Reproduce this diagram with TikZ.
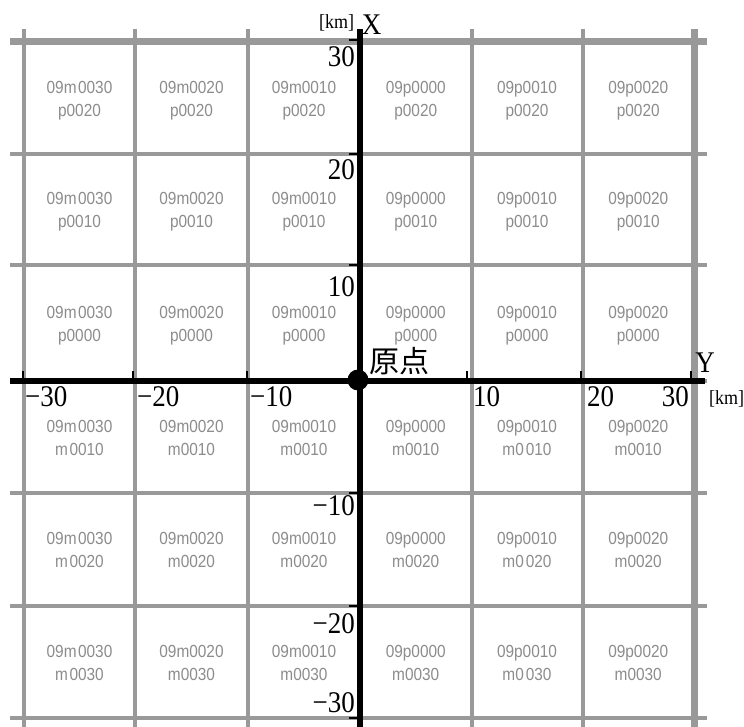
\documentclass[tikz,border=0pt]{standalone}
\usepackage{fontspec}
\setmainfont{Liberation Serif}
\newfontfamily\cellfont[FakeStretch=0.88]{Liberation Sans}
\newfontfamily\numfont[FakeStretch=0.9]{Liberation Serif}
\newfontfamily\jpfont{Noto Sans CJK JP}
\definecolor{gridgray}{HTML}{999999}
\definecolor{labelgray}{HTML}{8C8C8C}
\newcommand\mycell[5]{%
  \node[celltext] (#1a) at (#2,#3-4.75) {#4};
  \node[celltext] (#1b) at (#2,#3+18.25) {#5};}
\begin{document}
\begin{tikzpicture}[x=1pt,y=-1pt,
  gridline/.style={draw=gridgray, line width=4pt},
  edgeline/.style={draw=gridgray, line width=7pt},
  axisline/.style={draw=black, line width=6.5pt},
  tickmark/.style={draw=black, line width=2pt},
  celltext/.style={text=labelgray, font=\cellfont\fontsize{17.5}{20}\selectfont, inner sep=0pt, anchor=base},
  numlabel/.style={font=\numfont\fontsize{30}{32}\selectfont, inner sep=0pt},
  unitlabel/.style={font=\numfont\fontsize{20}{22}\selectfont, inner sep=0pt},
  ]
\useasboundingbox (0,0) rectangle (744,727);
% grid
\foreach \gx in {24,135,248,360,471.5,582.5}
  \draw[gridline] (\gx,29) -- (\gx,727);
\foreach \gy in {154,265.5,381,492.5,606,718}
  \draw[gridline] (10,\gy) -- (707,\gy);
\draw[edgeline] (10,41.7) -- (707,41.7);
\draw[edgeline] (694,29) -- (694,727);
% cell labels
% row 1
\mycell{r1c1}{79.5}{97.85}{09m\kern1.5pt0030}{p0020}
\mycell{r1c2}{191.5}{97.85}{09m0020}{p0020}
\mycell{r1c3}{304}{97.85}{09m0010}{p0020}
\mycell{r1c4}{415.75}{97.85}{09p0000}{p0020}
\mycell{r1c5}{527}{97.85}{09p0010}{p0020}
\mycell{r1c6}{638.25}{97.85}{09p0020}{p0020}
% row 2
\mycell{r2c1}{79.5}{209.75}{09m\kern1.5pt0030}{p0010}
\mycell{r2c2}{191.5}{209.75}{09m0020}{p0010}
\mycell{r2c3}{304}{209.75}{09m0010}{p0010}
\mycell{r2c4}{415.75}{209.75}{09p0000}{p0010}
\mycell{r2c5}{527}{209.75}{09p0010}{p0010}
\mycell{r2c6}{638.25}{209.75}{09p0020}{p0010}
% row 3
\mycell{r3c1}{79.5}{323.25}{09m\kern1.5pt0030}{p0000}
\mycell{r3c2}{191.5}{323.25}{09m0020}{p0000}
\mycell{r3c3}{304}{323.25}{09m0010}{p0000}
\mycell{r3c4}{415.75}{323.25}{09p0000}{p0000}
\mycell{r3c5}{527}{323.25}{09p0010}{p0000}
\mycell{r3c6}{638.25}{323.25}{09p0020}{p0000}
% row 4
\mycell{r4c1}{79.5}{436.75}{09m\kern1.5pt0030}{m\kern1.5pt0010}
\mycell{r4c2}{191.5}{436.75}{09m0020}{m0010}
\mycell{r4c3}{304}{436.75}{09m0010}{m0010}
\mycell{r4c4}{415.75}{436.75}{09p0000}{m0010}
\mycell{r4c5}{527}{436.75}{09p0010}{m0\kern2pt010}
\mycell{r4c6}{638.25}{436.75}{09p0020}{m0010}
% row 5
\mycell{r5c1}{79.5}{549.25}{09m\kern1.5pt0030}{m\kern1.5pt0020}
\mycell{r5c2}{191.5}{549.25}{09m0020}{m0020}
\mycell{r5c3}{304}{549.25}{09m0010}{m0020}
\mycell{r5c4}{415.75}{549.25}{09p0000}{m0020}
\mycell{r5c5}{527}{549.25}{09p0010}{m0\kern2pt020}
\mycell{r5c6}{638.25}{549.25}{09p0020}{m0020}
% row 6
\mycell{r6c1}{79.5}{662}{09m\kern1.5pt0030}{m\kern1.5pt0030}
\mycell{r6c2}{191.5}{662}{09m0020}{m0030}
\mycell{r6c3}{304}{662}{09m0010}{m0030}
\mycell{r6c4}{415.75}{662}{09p0000}{m0030}
\mycell{r6c5}{527}{662}{09p0010}{m0\kern2pt030}
\mycell{r6c6}{638.25}{662}{09p0020}{m0030}
% axes
\draw[axisline] (10,381) -- (705,381);
\draw[axisline] (360,29) -- (360,727);
% ticks on X axis
\foreach \gy in {40,154,265,492.5,606,718}
  \draw[tickmark] (349,\gy) -- (360,\gy);
% ticks on Y axis
\foreach \gx in {22.7,133.3,246.5,467,581,691}
  \draw[tickmark] (\gx,371) -- (\gx,381);
% origin
\node[circle, fill=black, minimum size=21pt, inner sep=0pt] (origin) at (358,380) {};
\node[font=\jpfont\fontsize{30}{32}\selectfont, inner sep=0pt] (genten) at (399,361.5) {原点};
% axis labels
\node[unitlabel] (kmx) at (336.5,23) {[km]};
\node[numlabel] (xname) at (371.5,25) {X};
\node[numlabel] (yname) at (705,362.5) {Y};
\node[unitlabel] (kmy) at (726.5,398.5) {[km]};
% X-axis numbers
\node[numlabel, anchor=east] (xp30) at (355,57) {30};
\node[numlabel, anchor=east] (xp20) at (355,169.5) {20};
\node[numlabel, anchor=east] (xp10) at (355,287) {10};
\node[numlabel, anchor=east] (xm10) at (355,506) {−10};
\node[numlabel, anchor=east] (xm20) at (355,624) {−20};
\node[numlabel, anchor=east] (xm30) at (355,703) {−30};
% Y-axis numbers
\node[numlabel, anchor=west] (ym30) at (25,397) {−30};
\node[numlabel, anchor=west] (ym20) at (137,397) {−20};
\node[numlabel, anchor=west] (ym10) at (250,397) {−10};
\node[numlabel, anchor=west] (yp10) at (473,397) {10};
\node[numlabel, anchor=west] (yp20) at (587,397) {20};
\node[numlabel, anchor=east] (yp30) at (689,397) {30};
\end{tikzpicture}
\end{document}
